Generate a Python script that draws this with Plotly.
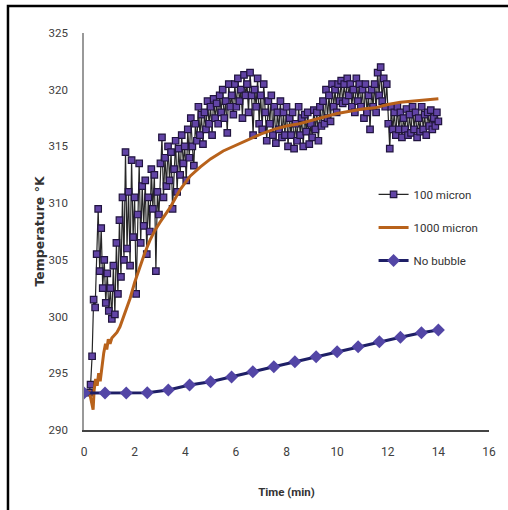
import plotly.graph_objects as go

# ---- data -------------------------------------------------------------
# 100 micron bubbles: sampled every 0.06 min starting at 0.20 min
t100_start = 0.20
t100_step = 0.06
temp_100 = [
    293.3, 294.0, 296.5, 301.5, 300.8, 305.5, 309.5, 304.0, 307.8, 302.5,
    305.0, 301.2, 303.8, 300.5, 302.5, 299.8, 304.5, 300.2, 306.5, 302.0,
    308.5, 303.5, 310.5, 305.0, 314.5, 306.0, 311.0, 304.5, 313.8, 307.0,
    310.5, 302.0, 309.0, 313.5, 306.5, 311.5, 308.0, 312.0, 305.5, 310.5,
    307.5, 313.0, 309.5, 312.5, 304.0, 311.0, 309.0, 313.5, 315.8, 310.5,
    314.0, 311.5, 315.0, 312.0, 314.5, 309.5, 313.0, 315.5, 311.0, 314.8,
    312.5, 316.0, 313.5, 315.0, 312.0, 316.5, 314.0, 317.5, 315.0, 313.3,
    317.0, 315.5, 318.5, 316.0, 317.8, 315.2, 318.0, 316.5, 319.0, 317.0,
    318.5, 316.0, 319.2, 317.5, 318.8, 317.0, 319.5, 318.0, 320.0, 317.5,
    319.0, 316.2, 320.5, 318.5, 319.5, 317.8, 320.5, 318.5, 321.0, 319.0,
    320.0, 317.5, 321.3, 319.5, 320.5, 318.0, 321.5, 319.5, 316.0, 320.0,
    318.5, 321.0, 317.0, 319.5, 316.5, 320.5, 318.0, 315.5, 319.0, 317.0,
    319.5, 316.0, 318.5, 315.3, 318.0, 316.5, 319.0, 315.8, 318.0, 316.0,
    318.5, 315.0, 317.5, 316.0, 318.0, 314.8, 317.0, 315.5, 318.5, 316.0,
    317.5, 315.0, 317.8, 316.3, 318.0, 315.2, 317.0, 315.8, 318.2, 316.5,
    318.0, 315.5, 318.5, 316.8, 319.0, 317.0, 320.0, 317.5, 319.5, 317.2,
    320.5, 318.5, 320.0, 318.0, 320.5, 319.0, 320.8, 318.8, 320.5, 319.0,
    321.0, 319.5, 320.5, 318.5, 320.0, 318.0, 321.0, 319.0, 320.5, 318.5,
    320.0, 317.5, 320.5, 318.0, 319.5, 316.5, 320.0, 318.5, 320.5, 318.0,
    321.5, 319.5, 322.0, 319.0, 321.0, 318.5, 320.5, 317.0, 314.8, 318.5,
    316.5, 318.0, 316.0, 318.5, 316.5, 318.0, 315.8, 317.5, 316.5, 318.3,
    316.0, 317.8, 316.2, 318.5, 316.5, 318.0, 315.8, 317.5, 316.3, 318.5,
    316.5, 317.8, 316.0, 318.0, 316.8, 318.2, 316.5, 317.5, 316.8, 318.0,
    317.2,
]
time_100 = [round(t100_start + t100_step * i, 2) for i in range(len(temp_100))]

# 1000 micron bubbles
time_1000 = [
    0.20, 0.30, 0.36, 0.40, 0.46, 0.52, 0.58, 0.64, 0.70, 0.78,
    0.85, 0.90, 0.96, 1.03, 1.10, 1.20, 1.30, 1.42, 1.60, 1.82,
    2.00, 2.20, 2.40, 2.60, 2.80, 3.00, 3.20, 3.40, 3.80, 4.20,
    4.60, 5.00, 5.50, 6.00, 6.50, 7.00, 7.50, 8.00, 8.50, 9.00,
    9.50, 10.00, 10.50, 11.00, 11.50, 12.00, 12.50, 13.00, 13.50, 14.00,
]
temp_1000 = [
    293.5, 292.5, 291.8, 293.5, 294.5, 293.9, 295.0, 294.3, 295.5, 296.8,
    297.6, 297.1, 298.0, 297.6, 298.1, 298.4, 298.6, 299.1, 300.2, 301.6,
    303.0, 304.4, 305.6, 306.7, 307.6, 308.3, 309.0, 309.6, 311.2, 312.4,
    313.2, 313.9, 314.6, 315.1, 315.6, 316.1, 316.5, 316.8, 317.0, 317.3,
    317.6, 317.9, 318.1, 318.3, 318.4, 318.7, 318.9, 319.0, 319.1, 319.2,
]

# No bubble
time_none = [
    0.00, 0.83, 1.67, 2.50, 3.33, 4.17, 5.00, 5.83, 6.67, 7.50,
    8.33, 9.17, 10.00, 10.83, 11.67, 12.50, 13.33, 14.00,
]
temp_none = [
    293.26, 293.26, 293.26, 293.29, 293.52, 293.96, 294.26, 294.67, 295.14, 295.58,
    296.02, 296.46, 296.90, 297.34, 297.78, 298.17, 298.57, 298.81,
]

x_ticks = [0, 2, 4, 6, 8, 10, 12, 14, 16]
y_ticks = [290, 295, 300, 305, 310, 315, 320, 325]

NARROW = "Roboto, sans-serif"

fig = go.Figure()

fig.add_trace(go.Scatter(
    x=time_100, y=temp_100, name="100 micron", mode="lines+markers",
    line=dict(color="#262626", width=1.2),
    marker=dict(symbol="square", size=6.5, color="#6244a6",
                line=dict(color="#21143f", width=1.2)),
    legendgroup="a",
))
fig.add_trace(go.Scatter(
    x=time_1000, y=temp_1000, name="1000 micron", mode="lines",
    line=dict(color="#b8621b", width=3),
    legendgroup="b",
))
fig.add_trace(go.Scatter(
    x=time_none, y=temp_none, name="No bubble", mode="lines+markers",
    line=dict(color="#1e1f66", width=3),
    marker=dict(symbol="diamond", size=10, color="#5346a6",
                line=dict(color="#5346a6", width=0)),
    legendgroup="c",
))

# outer frame around the whole chart
fig.add_shape(type="rect", xref="paper", yref="paper",
              x0=-0.1877, x1=1.07, y0=-0.22, y1=1.068,
              line=dict(color="black", width=2.5), fillcolor="rgba(0,0,0,0)")

fig.update_layout(
    width=508, height=510,
    margin=dict(l=84, r=19, t=33, b=80),
    paper_bgcolor="white", plot_bgcolor="white",
    font=dict(family=NARROW, size=12, color="#404040"),
    legend=dict(x=0.715, y=0.63, xanchor="left", yanchor="top",
                font=dict(family=NARROW, size=11.5, color="#333333"),
                tracegroupgap=14, bgcolor="rgba(0,0,0,0)"),
    xaxis=dict(
        range=[0, 16], tickvals=x_ticks, showgrid=False, zeroline=False,
        showline=True, linecolor="#444444", linewidth=1.5,
        ticks="", ticklabelstandoff=10,
        tickfont=dict(family=NARROW, size=12, color="#404040"),
        title=dict(text="<b>Time (min)</b>", standoff=30,
                   font=dict(family=NARROW, size=11.5, color="#333333")),
    ),
    yaxis=dict(
        range=[290, 325], tickvals=y_ticks, showgrid=False, zeroline=False,
        showline=True, linecolor="#999999", linewidth=1.5,
        ticks="", ticklabelstandoff=12,
        tickfont=dict(family=NARROW, size=11.5, color="#404040"),
        title=dict(text="<b>Temperature °K</b>", standoff=1,
                   font=dict(family="DejaVu Sans, sans-serif", size=12.5, color="#333333")),
    ),
)

fig.write_html("out.html")
